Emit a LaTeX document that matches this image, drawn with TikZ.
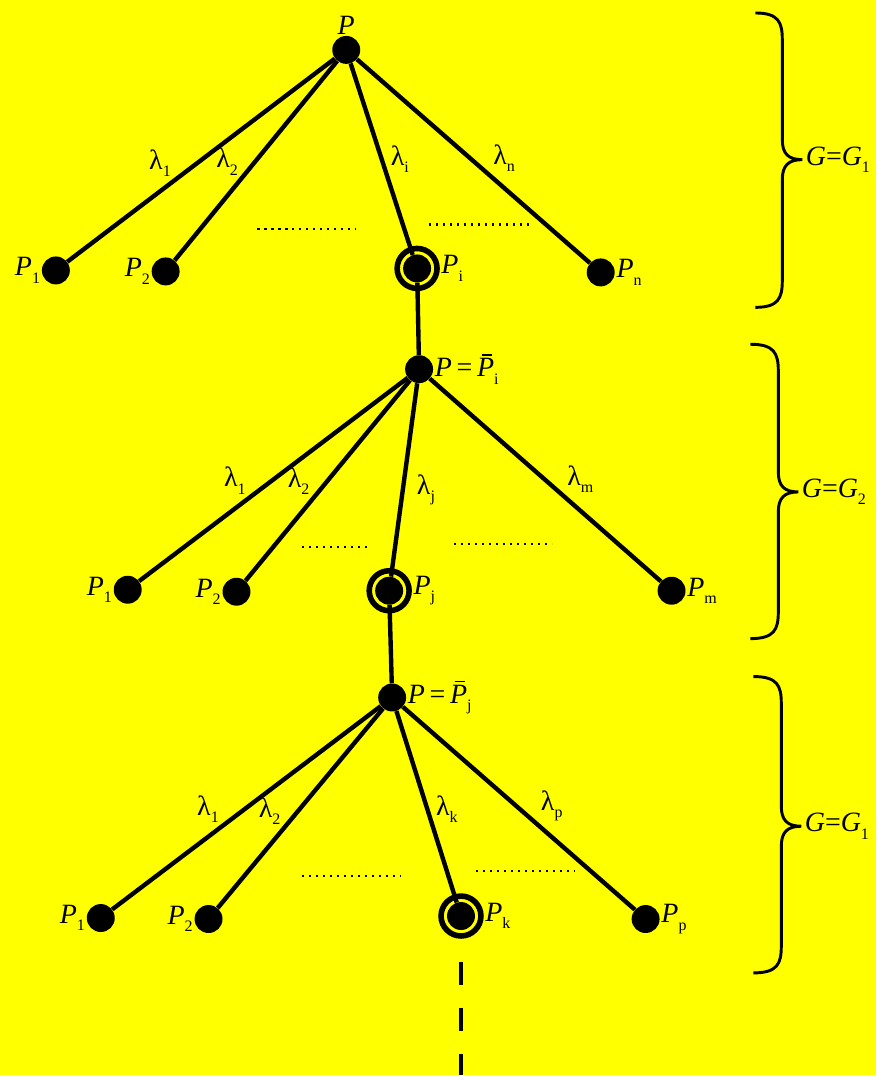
\documentclass[tikz,border=0pt]{standalone}
\usepackage{fontspec}
\setmainfont{Liberation Serif}
\usetikzlibrary{positioning}
\definecolor{backyellow}{RGB}{255,255,0}
\tikzset{
  dot/.style={
    circle, fill=black, inner sep=0pt, minimum size=21pt
  },
  %
  ring/.style={
    circle, draw=black, line width=4.2pt, inner sep=0pt, minimum size=30pt
  },
  %
  branch/.style={
    line width=3.3pt
  },
  %
  lbl/.style={
    inner sep=1pt, font=\fontsize{21}{24}\selectfont
  },
  %
  ellip/.style={
    line width=1.6pt, dash pattern=on 1.6pt off 3.65pt
  },
  %
  brace/.style={
    line width=2.2pt
  }
}
\newcommand{\lowsub}[1]{\raisebox{-5.5pt}{\fontsize{12}{12}\selectfont #1}}
\newcommand{\pnt}[1]{\textit{P}\lowsub{#1}}
\newcommand{\lam}[1]{λ\lowsub{#1}}
\newcommand{\grp}[1]{\textit{G}=\textit{G}\lowsub{#1}}
\newcommand{\barP}{\makebox[0pt][l]{\hspace{4pt}\raisebox{16pt}{\rule{7.5pt}{1pt}}}\textit{P}}
\newcommand{\pbar}[1]{\textit{P}\,=\,\barP\lowsub{#1}}

\begin{document}
\begin{tikzpicture}[x=0.75pt, y=-0.75pt]
\fill[backyellow] (0,0) rectangle (878,1077);

% first level
\node(r1)[dot, label={[lbl]above:\textit{P}}] at (347,50) {};
\node(a1)[dot, label={[lbl]left:\pnt{1}}] at (56,271) {};
\node(a2)[dot, label={[lbl]left:\pnt{2}}] at (166,272) {};
\node(ai)[dot] at (418,269) {};
\node(ai-ring)[ring, label={[lbl]right:\pnt{i}}] at (ai) {};
\node(an)[dot, label={[lbl]right:\pnt{n}}] at (602,273) {};

\draw[branch] (r1) -- node[lbl, pos=0.6, above left] {\lam{1}} (a1);
\draw[branch] (r1) -- node[lbl, pos=0.59, above left] {\lam{2}} (a2);
\draw[branch] (r1) -- node[lbl, pos=0.59, above right] {\lam{i}} (ai);
\draw[branch] (r1) -- node[lbl, pos=0.57, above right] {\lam{n}} (an);
\draw[ellip] (258,229.5) -- (357,229.5);
\draw[ellip] (430,225) -- (530,225);

% second level
\node(r2)[dot, label={[lbl]right:\pbar{i}}] at (420,370) {};
\node(b1)[dot, label={[lbl]left:\pnt{1}}] at (128,591) {};
\node(b2)[dot, label={[lbl]left:\pnt{2}}] at (237,593) {};
\node(bj)[dot] at (390,592) {};
\node(bj-ring)[ring, label={[lbl]right:\pnt{j}}] at (bj) {};
\node(bm)[dot, label={[lbl]right:\pnt{m}}] at (673,592) {};

\draw[branch] (ai) -- (r2);
\draw[branch] (r2) -- node[lbl, pos=0.59, above left] {\lam{1}} (b1);
\draw[branch] (r2) -- node[lbl, pos=0.59, above left] {\lam{2}} (b2);
\draw[branch] (r2) -- node[lbl, pos=0.55, right, xshift=8pt] {\lam{j}} (bj);
\draw[branch] (r2) -- node[lbl, pos=0.58, above right] {\lam{m}} (bm);
\draw[ellip] (303,548) -- (368,548);
\draw[ellip] (455,545) -- (553,545);

% third level
\node(r3)[dot, label={[lbl]right:\pbar{j}}] at (393,699) {};
\node(c1)[dot, label={[lbl]left:\pnt{1}}] at (101,920) {};
\node(c2)[dot, label={[lbl]left:\pnt{2}}] at (209,921) {};
\node(ck)[dot] at (462,918) {};
\node(ck-ring)[ring, label={[lbl]right:\pnt{k}}] at (ck) {};
\node(cp)[dot, label={[lbl]right:\pnt{p}}] at (647,921) {};
\coordinate(tail) at (462,1077);

\draw[branch] (bj) -- (r3);
\draw[branch] (r3) -- node[lbl, pos=0.59, above left] {\lam{1}} (c1);
\draw[branch] (r3) -- node[lbl, pos=0.6, above left] {\lam{2}} (c2);
\draw[branch] (r3) -- node[lbl, pos=0.6, above right] {\lam{k}} (ck);
\draw[branch] (r3) -- node[lbl, pos=0.58, above right] {\lam{p}} (cp);
\draw[ellip] (303,878) -- (402,878);
\draw[ellip] (477,873) -- (576,873);
\draw[line width=3.5pt, dash pattern=on 17.25pt off 17.25pt, dash phase=17.25pt] (ck-ring) -- (tail);

% braces on the right
\draw[brace] (757,13) .. controls (780,13) and (784,22) .. (784,40) -- (784,140)
  .. controls (784,154) and (790,160) .. (804,160)
  .. controls (790,160) and (784,166) .. (784,180) -- (784,281)
  .. controls (784,299) and (780,308) .. (757,308);
\node(g1)[lbl, anchor=west] at (806,160) {\grp{1}};

\draw[brace] (752,345) .. controls (776,345) and (780,354) .. (780,372) -- (780,473)
  .. controls (780,487) and (786,493) .. (800,493)
  .. controls (786,493) and (780,499) .. (780,513) -- (780,613)
  .. controls (780,631) and (776,640) .. (752,640);
\node(g2)[lbl, anchor=west] at (802,493) {\grp{2}};

\draw[brace] (755,678) .. controls (779,678) and (783,687) .. (783,705) -- (783,808)
  .. controls (783,822) and (789,828) .. (803,828)
  .. controls (789,828) and (783,834) .. (783,848) -- (783,948)
  .. controls (783,966) and (779,975) .. (755,975);
\node(g3)[lbl, anchor=west] at (805,828) {\grp{1}};

\end{tikzpicture}
\end{document}
